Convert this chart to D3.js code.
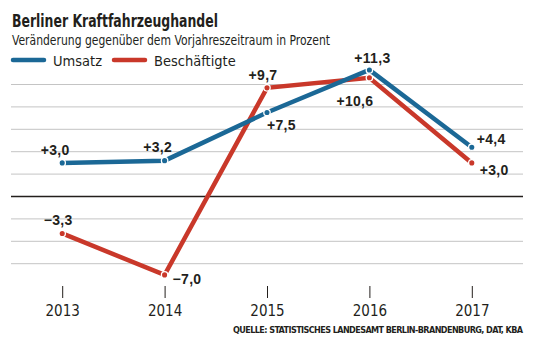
<!DOCTYPE html>
<html><head><meta charset="utf-8">
<script src="https://cdn.jsdelivr.net/npm/d3@7"></script>
<style>body{margin:0;background:#fff}svg{display:block}</style>
</head><body>
<svg id="c" width="533" height="341"></svg>
<script>
const years = ["2013","2014","2015","2016","2017"];
const umsatz = [3.0, 3.2, 7.5, 11.3, 4.4];
const beschaeftigte = [-3.3, -7.0, 9.7, 10.6, 3.0];
const umsatzLabels = ["+3,0","+3,2","+7,5","+11,3","+4,4"];
const beschLabels = ["−3,3","−7,0","+9,7","+10,6","+3,0"];
const gridValues = [-6,-4,-2,2,4,6,8,10];
const title = "Berliner Kraftfahrzeughandel";
const subtitle = "Veränderung gegenüber dem Vorjahreszeitraum in Prozent";
const source = "QUELLE: STATISTISCHES LANDESAMT BERLIN-BRANDENBURG, DAT, KBA";

const BLUE = "#1b6896", RED = "#c9382a", INK = "#231f1c";
const narrow = "'Liberation Sans Narrow','DejaVu Sans Condensed',sans-serif";
const svg = d3.select("#c");

const x = d3.scalePoint().domain(years).range([11, 523]).padding(0.5);
const y = d3.scaleLinear().domain([0, 10]).range([196.5, 84.5]);

// title
svg.append("text").attr("x", 12).attr("y", 27).attr("fill", INK)
  .attr("font-family", narrow).attr("font-weight", "bold").attr("font-size", 17.5)
  .attr("textLength", 206).attr("lengthAdjust", "spacingAndGlyphs").text(title);
svg.append("text").attr("x", 12).attr("y", 45).attr("fill", INK)
  .attr("font-family", narrow).attr("font-size", 14.5)
  .attr("textLength", 318).attr("lengthAdjust", "spacingAndGlyphs").text(subtitle);

// legend
const legend = [{n:"Umsatz", c:BLUE, x:13}, {n:"Beschäftigte", c:RED, x:114}];
legend.forEach(d => {
  svg.append("line").attr("x1", d.x).attr("x2", d.x + 31).attr("y1", 60).attr("y2", 60)
    .attr("stroke", d.c).attr("stroke-width", 4.5).attr("stroke-linecap", "round");
  svg.append("text").attr("x", d.x + 40).attr("y", 65.5).attr("fill", INK)
    .attr("font-family", narrow).attr("font-size", 14.5).text(d.n);
});

// grid
svg.append("g").selectAll("line").data(gridValues).join("line")
  .attr("x1", 11).attr("x2", 523).attr("y1", d => y(d)).attr("y2", d => y(d))
  .attr("stroke", "#c4c4c4").attr("stroke-width", 1);
svg.append("line").attr("x1", 11).attr("x2", 523).attr("y1", y(0)).attr("y2", y(0))
  .attr("stroke", INK).attr("stroke-width", 1.4);

// x axis
const xAxis = d3.axisBottom(x).tickSize(12).tickPadding(7);
const ax = svg.append("g").attr("transform", "translate(0,286)").call(xAxis);
ax.select(".domain").remove();
ax.selectAll(".tick line").attr("stroke", INK).attr("stroke-width", 1);
ax.selectAll(".tick text").attr("fill", INK).attr("font-family", narrow).attr("font-size", 15)
  .attr("dy", "0.71em");

// source
svg.append("text").attr("x", 523).attr("y", 333).attr("text-anchor", "end").attr("fill", INK)
  .attr("font-family", narrow).attr("font-weight", "bold").attr("font-size", 9)
  .attr("textLength", 290).attr("lengthAdjust", "spacing").text(source);

// series
const line = d3.line().x(d => x(d.year)).y(d => y(d.v));
const series = [
  {c: RED, vals: beschaeftigte, labels: beschLabels,
   off: [[-4,-8,"middle"],[8,9,"start"],[-4,-8,"middle"],[4,28,"end"],[8,12,"start"]]},
  {c: BLUE, vals: umsatz, labels: umsatzLabels,
   off: [[-7,-8,"middle"],[-7,-9,"middle"],[0,17,"start"],[3,-7,"middle"],[5,-3,"start"]]}
];
series.forEach(s => {
  const data = years.map((yr, i) => ({year: yr, v: s.vals[i], label: s.labels[i], off: s.off[i]}));
  svg.append("path").datum(data).attr("d", line).attr("fill", "none")
    .attr("stroke", s.c).attr("stroke-width", 4.5).attr("stroke-linejoin", "miter");
  svg.append("g").selectAll("circle").data(data).join("circle")
    .attr("cx", d => x(d.year)).attr("cy", d => y(d.v)).attr("r", 3.2)
    .attr("fill", s.c).attr("stroke", "#fff").attr("stroke-width", 1.3);
  s.data = data;
});
series.forEach(s => {
  svg.append("g").selectAll("text").data(s.data).join("text")
    .attr("x", d => x(d.year) + d.off[0]).attr("y", d => y(d.v) + d.off[1])
    .attr("text-anchor", d => d.off[2]).attr("fill", INK)
    .attr("font-family", "'Liberation Sans',Arial,sans-serif").attr("font-weight", "bold")
    .attr("font-size", 14).attr("letter-spacing", 0.3).text(d => d.label);
});
</script>
</body></html>
